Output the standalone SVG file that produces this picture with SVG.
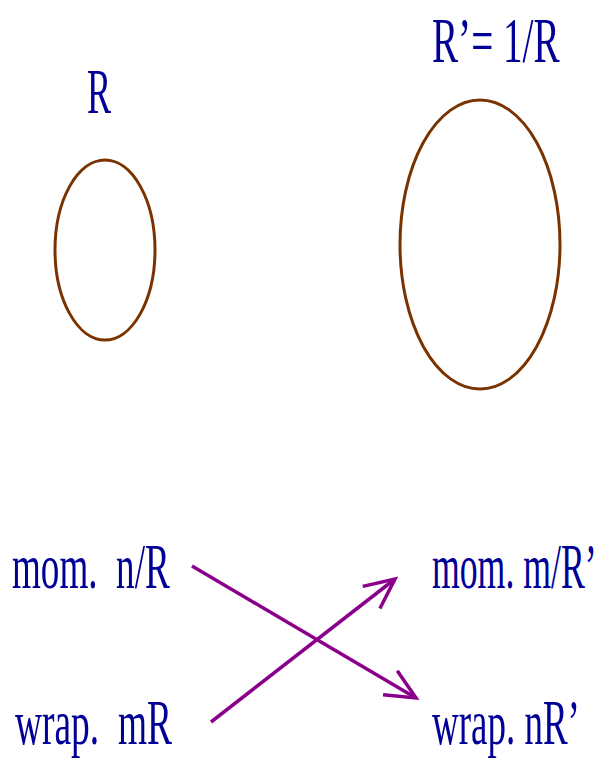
<svg xmlns="http://www.w3.org/2000/svg" width="602" height="758" viewBox="0 0 602 758">
<defs>
<style>
.t{font-family:"Liberation Serif","Times New Roman",serif;font-size:64px;fill:#000096;white-space:pre}
.ring{fill:none;stroke:#7a3300;stroke-width:3}
.arr{fill:none;stroke:#8b008b;stroke-width:3.5;marker-end:url(#head)}
</style>
<marker id="head" markerUnits="userSpaceOnUse" markerWidth="40" markerHeight="40" viewBox="-32 -20 40 40" refX="0" refY="0" orient="auto">
<path d="M -30 -14 L 0 0 L -30 14" fill="none" stroke="#8b008b" stroke-width="3.5"/>
</marker>
</defs>
<rect width="602" height="758" fill="#ffffff"/>
<g id="circleR">
<ellipse class="ring" cx="105" cy="250" rx="50" ry="90"/>
<text class="t" transform="translate(87 113) scale(0.565 1)">R</text>
</g>
<g id="circleRprime">
<ellipse class="ring" cx="480" cy="244.5" rx="80" ry="144.5"/>
<text class="t" transform="translate(432 62) scale(0.612 1)">R’= 1/R</text>
</g>
<g id="momR">
<text class="t" transform="translate(12 588) scale(0.58 1)">mom.  n/R</text>
</g>
<g id="wrapR">
<text class="t" transform="translate(15 744) scale(0.585 1)">wrap.  mR</text>
</g>
<g id="momRprime">
<text class="t" transform="translate(432 588) scale(0.558 1)">mom. m/R’</text>
</g>
<g id="wrapRprime">
<text class="t" transform="translate(432 744) scale(0.578 1)">wrap. nR’</text>
</g>
<g id="connectors">
<line class="arr" x1="192" y1="566" x2="416" y2="698"/>
<line class="arr" x1="211" y1="722" x2="395" y2="579"/>
</g>
</svg>
